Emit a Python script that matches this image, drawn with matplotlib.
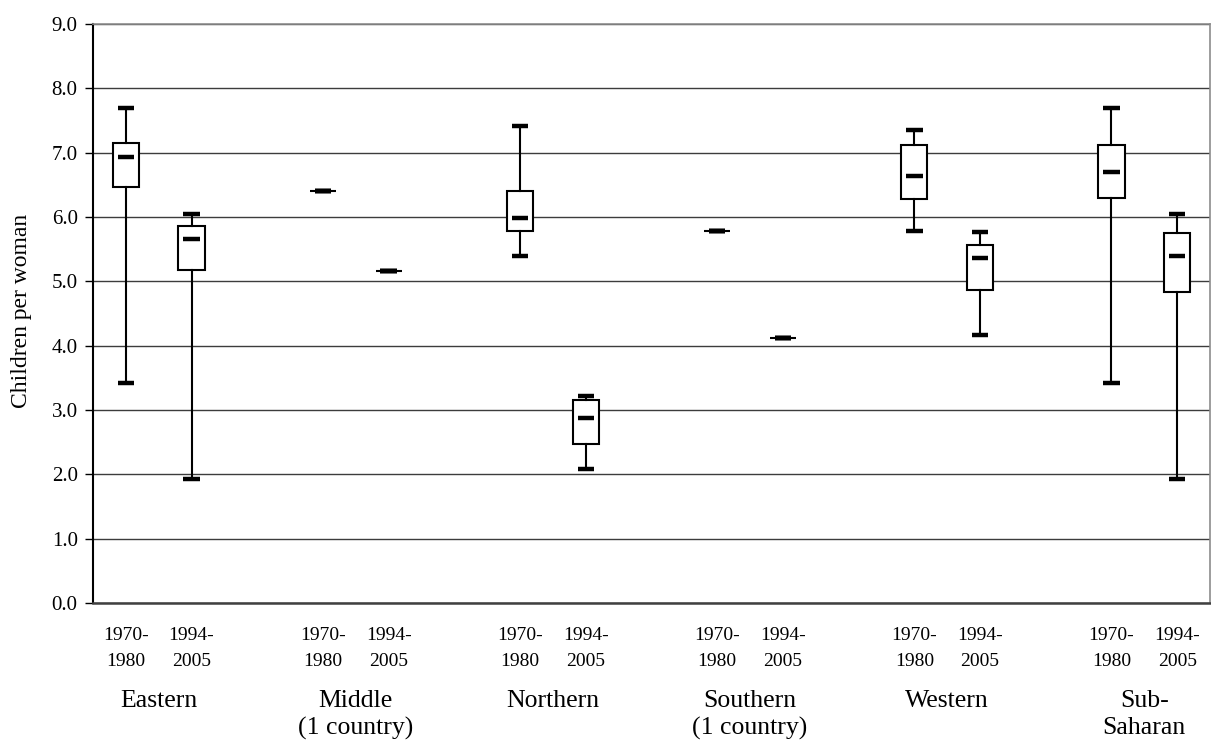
import matplotlib
matplotlib.use("Agg")
import matplotlib.pyplot as plt
from matplotlib.ticker import FormatStrFormatter, MultipleLocator
from matplotlib.transforms import blended_transform_factory

plt.rcParams["font.family"] = ["Liberation Serif", "DejaVu Serif"]

regions = ["Eastern", "Middle\n(1 country)", "Northern",
           "Southern\n(1 country)", "Western", "Sub-\nSaharan"]
periods = ["1970-\n1980", "1994-\n2005"]

# Total fertility rate summaries, ordered region by region (1970-1980, 1994-2005)
tfr_min = [3.42, 1.93, 6.41, 5.16, 5.39, 2.08, 5.79, 4.12, 5.79, 4.17, 3.42, 1.93]
tfr_q1 = [6.46, 5.17, 6.41, 5.16, 5.78, 2.47, 5.79, 4.12, 6.28, 4.86, 6.29, 4.84]
tfr_median = [6.94, 5.66, 6.41, 5.16, 5.99, 2.87, 5.79, 4.12, 6.64, 5.37, 6.70, 5.40]
tfr_q3 = [7.15, 5.86, 6.41, 5.16, 6.41, 3.16, 5.79, 4.12, 7.12, 5.56, 7.12, 5.75]
tfr_max = [7.70, 6.05, 6.41, 5.16, 7.41, 3.21, 5.79, 4.12, 7.36, 5.77, 7.70, 6.05]

positions = [3 * r + p for r in range(len(regions)) for p in range(len(periods))]
tick_labels = [periods[p] for r in range(len(regions)) for p in range(len(periods))]

stats = []
for lo, q1, med, q3, hi in zip(tfr_min, tfr_q1, tfr_median, tfr_q3, tfr_max):
    stats.append({"whislo": lo, "q1": q1, "med": med, "q3": q3, "whishi": hi,
                  "fliers": []})

fig = plt.figure(figsize=(12.11, 7.45), dpi=100)
ax = fig.add_axes([93 / 1211, 142 / 745, 1117 / 1211, 579 / 745])

ax.bxp(stats, positions=positions, widths=0.4, capwidths=0.25,
       patch_artist=True, showfliers=False,
       boxprops=dict(facecolor="white", edgecolor="black", linewidth=1.5),
       whiskerprops=dict(color="black", linewidth=1.5),
       capprops=dict(color="black", linewidth=3.2, solid_capstyle="butt"),
       medianprops=dict(visible=False), zorder=3)
# medians as short thick bars inside each box
ax.hlines(tfr_median, [x - 0.125 for x in positions], [x + 0.125 for x in positions],
          colors="black", linewidth=3.2, zorder=4)

ax.set_xlim(-0.5, 16.5)
ax.set_ylim(0, 9)
ax.yaxis.set_major_locator(MultipleLocator(1))
ax.yaxis.set_major_formatter(FormatStrFormatter("%.1f"))
ax.grid(axis="y", color="#3c3c3c", linewidth=1.0, zorder=0)
ax.set_axisbelow(True)

ax.set_xticks(positions)
ax.set_xticklabels(tick_labels, fontsize=14, linespacing=1.7)
ax.tick_params(axis="x", length=0, pad=17)
ax.tick_params(axis="y", length=6, width=1, direction="out", labelsize=15, pad=5)

for side in ("top", "right"):
    ax.spines[side].set_color("#8c8c8c")
    ax.spines[side].set_linewidth(1.2)
ax.spines["left"].set_color("black")
ax.spines["left"].set_linewidth(1.5)
ax.spines["bottom"].set_color("#404040")
ax.spines["bottom"].set_linewidth(1.8)

trans = blended_transform_factory(ax.transData, ax.transAxes)
for r, name in enumerate(regions):
    ax.text(3 * r + 0.5, -0.150, name, transform=trans, ha="center", va="top",
            fontsize=18.5, linespacing=1.3)

fig.text(22 / 1211, 1 - 311 / 745, "Children per woman", rotation=90,
         ha="center", va="center", fontsize=17)

fig.savefig("out.png", dpi=100)
